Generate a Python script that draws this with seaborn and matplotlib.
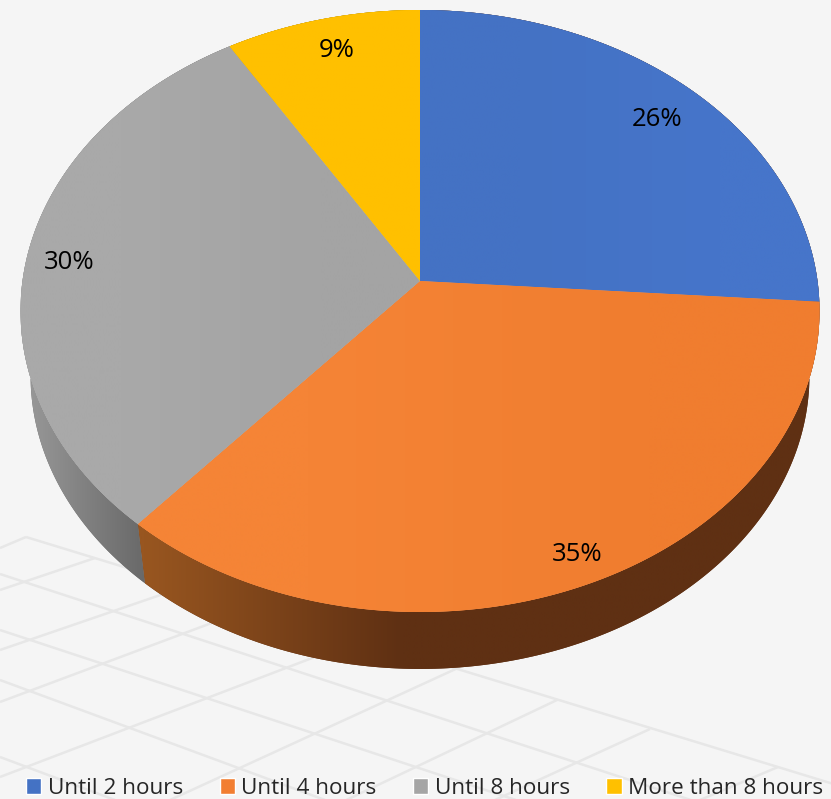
import numpy as np
import matplotlib

matplotlib.use("Agg")
import matplotlib.pyplot as plt
from matplotlib.colors import to_rgb
from matplotlib.collections import LineCollection
from matplotlib.patches import Polygon
import seaborn as sns

# ----------------------------
# chart values
categories = ["Until 2 hours", "Until 4 hours", "Until 8 hours", "More than 8 hours"]
shares = [26.1, 35.3, 29.9, 8.7]
slice_colors = ["#4472c4", "#f27e31", "#a5a5a5", "#ffc000"]

# gradients: top face (start, end) and side wall (left, right)
top_shade = [("#4472c4", "#4675ca"), ("#f58436", "#f07d2f"), ("#a9a9a9", "#a4a4a4"), ("#ffc000", "#ffc000")]
wall_shade = [("#5f3013", "#5f3013"), ("#985620", "#5f3013"), ("#989898", "#696969"), ("#8a6a00", "#8a6a00")]
wall_range = [(420, 820), (144, 400), (27, 144), (230, 420)]

# small moves of the percentage labels, picture pixels
label_nudge = [(-7, 9), (10, 7), (-1, 4), (5, 5)]

# floor grid drawn behind the pie, picture pixels
floor_lines = [
    ((26, 537), (840, 786)), ((0, 574), (700, 803)), ((0, 630), (525, 803)),
    ((0, 680), (325, 800)), ((0, 757), (115, 800)),
    ((0, 548), (26, 537)), ((0, 590), (95, 558)), ((0, 650), (175, 590)),
    ((0, 702), (225, 618)), ((0, 777), (320, 655)), ((170, 800), (460, 667)),
    ((340, 803), (557, 700)), ((495, 800), (650, 729)), ((700, 800), (778, 767)),
]


# ----------------------------
# perspective of the disc, unit circle -> picture pixels
def project(u, v):
    w = 1 + 0.0997 * v
    return 420 + 397.5 * u / w, (281 - 270 * v) / w


def drop(x, y):
    # top face edge -> bottom edge of the wall, lines converge far below the pie
    t = 0.0252
    return x + t * (420 - x), y + t * (2870 - y)


sns.set_theme(style="white", palette=sns.color_palette(slice_colors))
plt.rcParams['font.family'] = ['Open Sans', 'DejaVu Sans']

fig = plt.figure(figsize=(8.31, 7.99), dpi=100, facecolor="#f5f5f5")
ax = fig.add_axes([0, 0, 1, 1])

wedges, _, autotexts = ax.pie(shares, colors=sns.color_palette(slice_colors), startangle=90,
                              counterclock=False, autopct='%.0f%%', pctdistance=0.89,
                              textprops={'fontsize': 18.5, 'color': 'black'})

leg = fig.legend(wedges, categories, ncol=4, loc='lower left', bbox_to_anchor=(26 / 831, 0 / 799),
                 frameon=False, fontsize=16.2, labelcolor='#262626', handlelength=0.67, handleheight=0.67,
                 handletextpad=0.3, columnspacing=1.62, borderpad=0, borderaxespad=0)

ax.set_aspect('auto')
ax.set_xlim(0, 831)
ax.set_ylim(799, 0)
ax.axis('off')

ax.add_collection(LineCollection(floor_lines, colors='#e7e7e7', linewidths=1.8, zorder=1))

for i, wedge in enumerate(wedges):
    theta = np.radians(np.linspace(wedge.theta1, wedge.theta2, 240))
    x, y = project(np.cos(theta), np.sin(theta))
    bx, by = drop(x, y)

    # side wall, flat polygon for the smooth edge and a clipped gradient over it
    side = np.column_stack([np.r_[x, bx[::-1]], np.r_[y, by[::-1]]])
    wall = Polygon(side, closed=True, facecolor=wall_shade[i][1], edgecolor='none', zorder=2)
    ax.add_patch(wall)
    c0, c1 = np.array(to_rgb(wall_shade[i][0])), np.array(to_rgb(wall_shade[i][1]))
    xs = np.linspace(side[:, 0].min(), side[:, 0].max(), 300)
    f = np.clip((xs - wall_range[i][0]) / (wall_range[i][1] - wall_range[i][0]), 0, 1)
    strip = (c0 + (c1 - c0) * f[:, None])[None, :, :]
    im = ax.imshow(strip, extent=(xs[0], xs[-1], side[:, 1].max(), side[:, 1].min()),
                   aspect='auto', interpolation='bilinear', zorder=2.5)
    im.set_clip_path(wall)

    # top face
    ax0, ay0 = project(0.0, 0.0)
    top = np.column_stack([np.r_[ax0, x], np.r_[ay0, y]])
    poly = Polygon(top, closed=True, facecolor=slice_colors[i], edgecolor='none', zorder=3)
    ax.add_patch(poly)
    grad = np.array([[to_rgb(top_shade[i][0]), to_rgb(top_shade[i][1])]])
    im = ax.imshow(grad, extent=(top[:, 0].min(), top[:, 0].max(), top[:, 1].max(), top[:, 1].min()),
                   aspect='auto', interpolation='bilinear', zorder=3.5)
    im.set_clip_path(poly)

    wedge.set_visible(False)

    # percentage labels follow the same perspective
    px, py = autotexts[i].get_position()
    lx, ly = project(px, py)
    autotexts[i].set_position((lx + label_nudge[i][0], ly + label_nudge[i][1]))
    autotexts[i].set_zorder(5)

ax.set_xlim(0, 831)
ax.set_ylim(799, 0)

fig.savefig('out.png', dpi=100, facecolor=fig.get_facecolor())
